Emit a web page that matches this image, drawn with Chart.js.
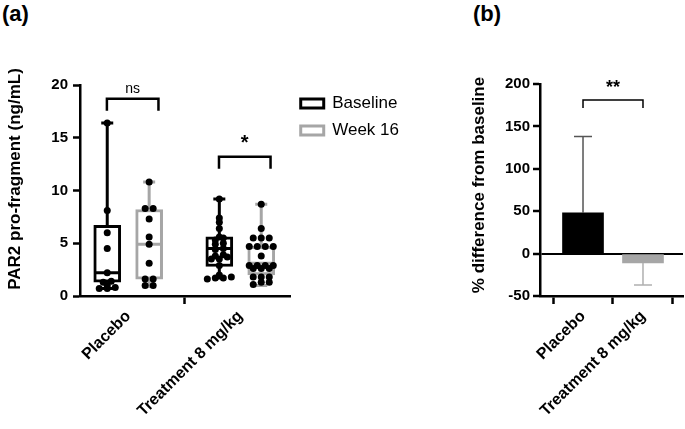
<!DOCTYPE html>
<html>
<head>
<meta charset="utf-8">
<script src="https://cdn.jsdelivr.net/npm/chart.js@4.4.0/dist/chart.umd.min.js"></script>
<style>
  body { margin: 0; background: #fff; width: 685px; height: 429px; position: relative; overflow: hidden; }
  canvas { position: absolute; top: 0; }
  #chart-a { left: 0; }
  #chart-b { left: 445px; }
  .tag { position: absolute; top: 2px; font: bold 22px 'Liberation Sans Narrow', 'Liberation Sans', Arial, sans-serif; line-height: 24px; color: #000; }
</style>
</head>
<body>
<div class="tag" style="left:2px">(a)</div>
<div class="tag" style="left:473px">(b)</div>
<canvas id="chart-a" width="445" height="429"></canvas>
<canvas id="chart-b" width="240" height="429"></canvas>
<script>
// --- data ---
const groups = ['Placebo', 'Treatment 8 mg/kg'];

// box summaries, ng/mL
const baselineMin = [0.7, 1.7];
const baselineQ1 = [1.3, 2.8];
const baselineMedian = [2.2, 4.5];
const baselineQ3 = [6.7, 5.6];
const baselineMax = [16.4, 9.2];

const week16Min = [0.9, 1.0];
const week16Q1 = [1.6, 2.0];
const week16Median = [4.9, 3.1];
const week16Q3 = [8.2, 4.7];
const week16Max = [10.8, 8.7];

// individual subjects, ng/mL
const placeboBaseline = [16.4, 8.1, 6.0, 4.5, 2.2, 1.4, 1.3, 1.0, 0.8, 0.7, 0.7];
const placeboWeek16 = [10.8, 8.3, 8.3, 7.3, 5.6, 4.9, 3.1, 1.6, 1.6, 1.0, 1.0];
const treatBaseline = [9.2, 7.4, 7.0, 6.4, 5.6, 5.5, 5.3, 5.0, 4.9, 4.5, 4.4, 3.9, 3.8, 3.7, 3.5, 3.5, 2.9, 2.0, 1.8, 1.7, 1.7, 1.6];
const treatWeek16 = [8.7, 6.4, 5.5, 5.5, 5.5, 4.7, 4.7, 4.7, 4.7, 3.8, 2.9, 2.9, 2.9, 2.9, 2.6, 2.6, 2.6, 1.8, 1.8, 1.8, 1.3, 1.3, 1.1];

// panel (b): % difference from baseline, mean and SD
const pctChange = [48, -11];
const pctSd = [90, 26];

const sigLabelsA = ['ns', '*'];
const sigLabelB = '**';

// --- styling ---
Chart.defaults.font.family = "'Liberation Sans', Arial, sans-serif";
Chart.defaults.color = '#000';

const BLACK = '#000000';
const GREY = '#a6a6a6';
const X_SLOT = 0.187;      // Baseline / Week 16 offset from group centre
const PX_PER_X = 112;      // panel (a) x scale, px per unit
const ROW_GAP = 0.25;      // values closer than this share a row in the scatter
const DOT_STEP = 8;        // px between dots on one row

// points of similar value are laid out side by side, centred on the box
function swarm(values, centre) {
    const rows = [];
    values.slice().sort((a, b) => a - b).forEach(v => {
        const row = rows[rows.length - 1];
        if (row && v - row[0] < ROW_GAP) row.push(v);
        else rows.push([v]);
    });
    const out = [];
    rows.forEach(row => {
        row.forEach((v, k) => {
            const dx = (k - (row.length - 1) / 2) * DOT_STEP;
            out.push({ x: centre + dx / PX_PER_X, y: v });
        });
    });
    return out;
}

const boxStats = [
    { color: BLACK, min: baselineMin, med: baselineMedian, q1: baselineQ1, q3: baselineQ3, max: baselineMax },
    { color: GREY, min: week16Min, med: week16Median, q1: week16Q1, q3: week16Q3, max: week16Max }
];

const boxPlugin = {
    id: 'boxWhiskers',
    afterDatasetDraw(chart, args) {
        const s = boxStats[args.index];
        if (!s) return;
        const ctx = chart.ctx;
        const y = chart.scales.y;
        ctx.save();
        ctx.strokeStyle = s.color;
        ctx.lineWidth = 3;
        args.meta.data.forEach((bar, j) => {
            const x = bar.x;
            const half = bar.width / 2 - 1.5;
            const yMax = y.getPixelForValue(s.max[j]);
            const yMin = y.getPixelForValue(s.min[j]);
            ctx.beginPath();
            ctx.moveTo(x, y.getPixelForValue(s.q3[j]));
            ctx.lineTo(x, yMax);
            ctx.moveTo(x, y.getPixelForValue(s.q1[j]));
            ctx.lineTo(x, yMin);
            ctx.moveTo(x - 6, yMax);
            ctx.lineTo(x + 6, yMax);
            ctx.moveTo(x - 6, yMin);
            ctx.lineTo(x + 6, yMin);
            ctx.moveTo(x - half, y.getPixelForValue(s.med[j]));
            ctx.lineTo(x + half, y.getPixelForValue(s.med[j]));
            ctx.stroke();
        });
        ctx.restore();
    }
};

function drawBracket(ctx, x0, x1, yTop, yLeg, text, font, lineWidth) {
    ctx.save();
    ctx.strokeStyle = BLACK;
    ctx.lineWidth = lineWidth;
    ctx.beginPath();
    ctx.moveTo(x0, yLeg);
    ctx.lineTo(x0, yTop);
    ctx.lineTo(x1, yTop);
    ctx.lineTo(x1, yLeg);
    ctx.stroke();
    ctx.fillStyle = BLACK;
    ctx.font = font;
    ctx.textAlign = 'center';
    ctx.textBaseline = 'bottom';
    ctx.fillText(text, (x0 + x1) / 2, yTop - 3);
    ctx.restore();
}

// rotated y-axis title, centred where the figure has it
function yTitle(text, cx, cy) {
    return {
        id: 'yTitle',
        afterDraw(chart) {
            const ctx = chart.ctx;
            ctx.save();
            ctx.translate(cx, cy);
            ctx.rotate(-Math.PI / 2);
            ctx.fillStyle = BLACK;
            ctx.font = "bold 17px 'Liberation Sans', Arial, sans-serif";
            ctx.textAlign = 'center';
            ctx.textBaseline = 'middle';
            ctx.fillText(text, 0, 0);
            ctx.restore();
        }
    };
}

const bracketsA = {
    id: 'bracketsA',
    afterDatasetsDraw(chart) {
        const { x, y } = chart.scales;
        const tops = [18.7, 13.2];
        const fonts = ["14px 'Liberation Sans', Arial", "bold 20px 'Liberation Sans', Arial"];
        sigLabelsA.forEach((label, i) => {
            drawBracket(chart.ctx, x.getPixelForValue(i - 0.19), x.getPixelForValue(i + 0.27),
                y.getPixelForValue(tops[i]), y.getPixelForValue(tops[i]) + 12, label, fonts[i], 2.5);
        });
    }
};

const errorBarsB = {
    id: 'errorBarsB',
    afterDatasetsDraw(chart) {
        const ctx = chart.ctx;
        const { x, y } = chart.scales;
        const colors = ['#555555', '#b0b0b0'];
        chart.getDatasetMeta(0).data.forEach((bar, i) => {
            const end = pctChange[i] + Math.sign(pctChange[i]) * pctSd[i];
            const y0 = y.getPixelForValue(pctChange[i]);
            const y1 = y.getPixelForValue(end);
            ctx.save();
            ctx.strokeStyle = colors[i];
            ctx.lineWidth = 1.5;
            ctx.beginPath();
            ctx.moveTo(bar.x, y0);
            ctx.lineTo(bar.x, y1);
            ctx.moveTo(bar.x - 9, y1);
            ctx.lineTo(bar.x + 9, y1);
            ctx.stroke();
            ctx.restore();
        });
        const top = y.getPixelForValue(181);
        drawBracket(ctx, x.getPixelForValue(0), x.getPixelForValue(1), top, top + 8,
            sigLabelB, "bold 18px 'Liberation Sans', Arial", 1.5);
    }
};

function categoryTicks(scale) {
    scale.ticks = groups.map((g, i) => ({ value: i }));
}

const tickFont = { size: 15, weight: 'bold' };
const labelFont = { size: 16, weight: 'bold' };
const axisBorder = { color: BLACK, width: 2.5 };

function groupAxis(min, max) {
    return {
        type: 'linear',
        min: min,
        max: max,
        offset: false,
        afterBuildTicks: categoryTicks,
        afterFit: s => { s.height = 133; },
        ticks: {
            callback: v => groups[v],
            minRotation: 45,
            maxRotation: 45,
            autoSkip: false,
            color: BLACK,
            font: labelFont,
            padding: 3
        },
        grid: { drawOnChartArea: false, tickLength: 8, tickWidth: 2.5, tickColor: BLACK },
        border: axisBorder
    };
}

// --- panel (a): box plots with subjects ---
new Chart(document.getElementById('chart-a'), {
    type: 'bar',
    data: {
        datasets: [
            {
                label: 'Baseline',
                data: groups.map((g, i) => ({ x: i - X_SLOT, y: [baselineQ1[i], baselineQ3[i]] })),
                backgroundColor: '#ffffff',
                borderColor: BLACK,
                borderWidth: 3,
                borderSkipped: false,
                grouped: false,
                barPercentage: 1,
                categoryPercentage: 1,
                maxBarThickness: 27,
                order: 1
            },
            {
                label: 'Week 16',
                data: groups.map((g, i) => ({ x: i + X_SLOT, y: [week16Q1[i], week16Q3[i]] })),
                backgroundColor: '#ffffff',
                borderColor: GREY,
                borderWidth: 3,
                borderSkipped: false,
                grouped: false,
                barPercentage: 1,
                categoryPercentage: 1,
                maxBarThickness: 27,
                order: 1
            },
            ...[
                [placeboBaseline, 0 - X_SLOT],
                [placeboWeek16, 0 + X_SLOT],
                [treatBaseline, 1 - X_SLOT],
                [treatWeek16, 1 + X_SLOT]
            ].map(([vals, centre]) => ({
                type: 'scatter',
                label: 'subjects',
                data: swarm(vals, centre),
                pointRadius: 3.5,
                pointBackgroundColor: BLACK,
                pointBorderWidth: 0,
                order: 0
            }))
        ]
    },
    options: {
        responsive: false,
        animation: false,
        events: [],
        layout: { padding: { top: 85, left: 0, right: 36, bottom: 0 } },
        plugins: {
            legend: {
                position: 'right',
                align: 'start',
                maxWidth: 155,
                labels: {
                    filter: item => item.datasetIndex < 2,
                    boxWidth: 23,
                    boxHeight: 9,
                    padding: 10,
                    color: BLACK,
                    font: { size: 17 }
                }
            },
            tooltip: { enabled: false }
        },
        scales: {
            x: groupAxis(-0.43, 1.45),
            y: {
                min: 0,
                max: 20,
                afterFit: s => { s.width = 80; },
                ticks: { stepSize: 5, color: BLACK, font: tickFont, padding: 5 },
                grid: { drawOnChartArea: false, tickLength: 7, tickWidth: 2.5, tickColor: BLACK },
                border: axisBorder
            }
        }
    },
    plugins: [boxPlugin, bracketsA, yTitle('PAR2 pro-fragment (ng/mL)', 15, 179)]
});

// --- panel (b): % difference from baseline ---
new Chart(document.getElementById('chart-b'), {
    type: 'bar',
    data: {
        datasets: [{
            label: '% difference',
            data: groups.map((g, i) => ({ x: i, y: pctChange[i] })),
            backgroundColor: [BLACK, GREY],
            borderWidth: 0,
            grouped: false,
            barPercentage: 1,
            categoryPercentage: 1,
            maxBarThickness: 41
        }]
    },
    options: {
        responsive: false,
        animation: false,
        events: [],
        layout: { padding: { top: 84, left: 15, right: 2, bottom: 0 } },
        plugins: { legend: { display: false }, tooltip: { enabled: false } },
        scales: {
            x: groupAxis(-0.717, 1.667),
            y: {
                min: -50,
                max: 200,
                afterFit: s => { s.width = 80; },
                ticks: { stepSize: 50, color: BLACK, font: tickFont, padding: 3 },
                grid: {
                    color: c => (c.tick && c.tick.value === 0 ? BLACK : 'rgba(0,0,0,0)'),
                    lineWidth: 2,
                    tickLength: 7,
                    tickWidth: 2.5,
                    tickColor: BLACK
                },
                border: axisBorder
            }
        }
    },
    plugins: [errorBarsB, yTitle('% difference from baseline', 34, 185)]
});
</script>
</body>
</html>
